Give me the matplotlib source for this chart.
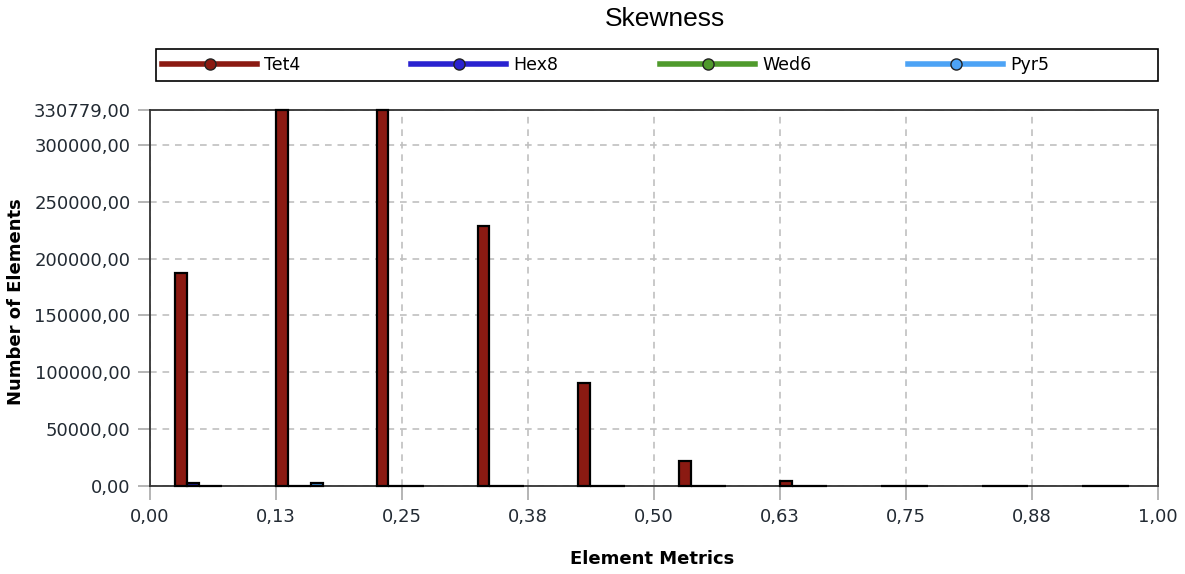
import numpy as np
import matplotlib
matplotlib.use('Agg')
import matplotlib.pyplot as plt
from matplotlib.ticker import FuncFormatter
from matplotlib.lines import Line2D
from matplotlib.patches import Rectangle

# histogram data (10 bins of width 0.1)
bin_starts = [0.0, 0.1, 0.2, 0.3, 0.4, 0.5, 0.6, 0.7, 0.8, 0.9]
tet4 = [187000, 330779, 330500, 228700, 90900, 22300, 4700, 0, 0, 0]
hex8 = [2300, 0, 0, 0, 0, 0, 0, 0, 0, 0]
wed6 = [0, 0, 0, 0, 0, 0, 0, 0, 0, 0]
pyr5 = [0, 2300, 0, 0, 0, 0, 0, 0, 0, 0]

series_names = ['Tet4', 'Hex8', 'Wed6', 'Pyr5']
line_colors = ['#8b1a12', '#2a22d0', '#4f9a2c', '#4da3f5']
bar_colors = ['#8b1a12', '#1c1c8c', '#4f9a2c', '#3f8ed6']

x_ticks = [0.0, 0.125, 0.25, 0.375, 0.5, 0.625, 0.75, 0.875, 1.0]
x_tick_labels = ['0,00', '0,13', '0,25', '0,38', '0,50', '0,63', '0,75', '0,88', '1,00']
y_ticks = [0, 50000, 100000, 150000, 200000, 250000, 300000, 330779]
y_max = 330779

W, H = 1185, 574
fig = plt.figure(figsize=(W / 100, H / 100), dpi=100)
ax = fig.add_axes([150 / W, 1 - 486 / H, 1008 / W, 376 / H])

# bars of one bin sit side by side from 0.025 into the bin;
# no clipping so the empty bars still show as a black line on the axis
bar_w = 0.0116
offset = 0.025
for k, vals in enumerate([tet4, hex8, wed6, pyr5]):
    xs = np.array(bin_starts) + offset + k * bar_w
    ax.bar(xs, vals, width=bar_w, align='edge', color=bar_colors[k],
           edgecolor='black', linewidth=1.6, zorder=3, clip_on=False)

ax.set_xlim(0, 1)
ax.set_ylim(0, y_max)
ax.set_xticks(x_ticks)
ax.set_xticklabels(x_tick_labels)
ax.set_yticks(y_ticks)
ax.yaxis.set_major_formatter(FuncFormatter(lambda v, p: f'{v:.2f}'.replace('.', ',')))

ax.grid(True, linestyle=(0, (4, 3.5)), color='#c0c0c0', linewidth=1.2, zorder=0)
ax.tick_params(axis='both', direction='out', width=1.2, color='#a8a8a8',
               labelsize=13, labelcolor='#222a33')
ax.tick_params(axis='y', length=9, pad=5)
ax.tick_params(axis='x', length=10, pad=6)
for s in ax.spines.values():
    s.set_color('#333333')
    s.set_linewidth(1.3)

ax.set_xlabel('Element Metrics', fontsize=13, fontweight='bold')
ax.set_ylabel('Number of Elements', fontsize=13, fontweight='bold')
ax.xaxis.set_label_coords((652 - 150) / 1008, -(559 - 486) / 376)
ax.yaxis.set_label_coords((16 - 150) / 1008, 0.49)
ax.xaxis.label.set_va('center')
ax.yaxis.label.set_va('center')

fig.text(665 / W, 1 - 19 / H, 'Skewness', ha='center', va='center',
         fontsize=19, family='Liberation Sans')

# legend: a box across the top with four evenly spaced entries
fig.add_artist(Rectangle((156 / W, 1 - 81 / H), 1002 / W, 32 / H, transform=fig.transFigure,
                         fill=False, edgecolor='black', linewidth=1.2))
entry_x = [162, 411, 660, 908]
for name, c, x0 in zip(series_names, line_colors, entry_x):
    h = Line2D([0], [0], color=c, lw=4, marker='o', markersize=8,
               markerfacecolor=c, markeredgecolor='#222222', markeredgewidth=1)
    fig.legend([h], [name], loc='center left', bbox_to_anchor=(x0 / W, 1 - 65 / H),
               frameon=False, fontsize=12.5, handlelength=5.5, handletextpad=0.4,
               borderaxespad=0, borderpad=0)

fig.savefig('out.png', dpi=100)
